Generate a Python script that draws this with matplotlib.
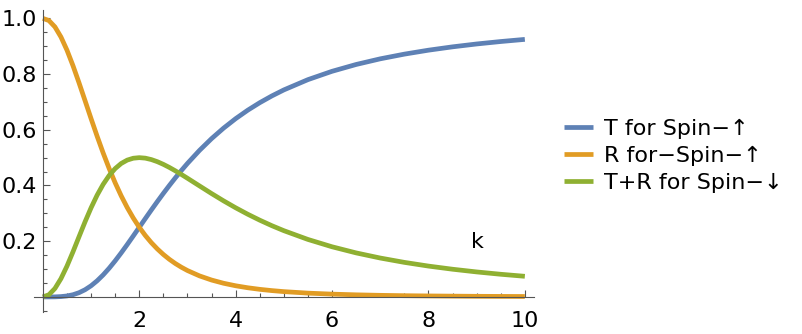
import numpy as np
import matplotlib
matplotlib.use("Agg")
import matplotlib.pyplot as plt
from matplotlib.ticker import MultipleLocator, FixedLocator

# values
k = [0, 0.125, 0.25, 0.375, 0.5, 0.625, 0.75, 0.875, 1, 1.125, 1.25, 1.375,
     1.5, 1.625, 1.75, 1.875, 2, 2.125, 2.25, 2.375, 2.5, 2.625, 2.75, 2.875,
     3, 3.25, 3.5, 3.75, 4, 4.25, 4.5, 4.75, 5, 5.5, 6, 6.5, 7, 7.5, 8, 8.5,
     9, 9.5, 10]
t_up = [0, 0.0000, 0.0002, 0.0012, 0.0035, 0.0079, 0.0152, 0.0258, 0.04,
        0.0578, 0.0789, 0.1030, 0.1296, 0.1581, 0.188, 0.2188, 0.25, 0.2812,
        0.3121, 0.3423, 0.3718, 0.4003, 0.4278, 0.4541, 0.4793, 0.5261, 0.5683,
        0.6061, 0.64, 0.6703, 0.6973, 0.7215, 0.7432, 0.7801, 0.81, 0.8345,
        0.8548, 0.8716, 0.8858, 0.8978, 0.9081, 0.9169, 0.9246]
r_up = [1.0, 0.9922, 0.9695, 0.9332, 0.8858, 0.8300, 0.7686, 0.7045, 0.64,
        0.5771, 0.5171, 0.4611, 0.4096, 0.3628, 0.3208, 0.2833, 0.25, 0.2206,
        0.1948, 0.1722, 0.1523, 0.1349, 0.1197, 0.1064, 0.0947, 0.0755, 0.0606,
        0.0490, 0.04, 0.0329, 0.0272, 0.0227, 0.019, 0.0136, 0.01, 0.0075,
        0.0057, 0.0044, 0.0035, 0.0028, 0.0022, 0.0018, 0.0015]
tr_down = [0, 0.0078, 0.0303, 0.0656, 0.1107, 0.1621, 0.2162, 0.2697, 0.32,
           0.3652, 0.404, 0.4359, 0.4608, 0.4791, 0.4912, 0.4979, 0.5, 0.4982,
           0.4931, 0.4855, 0.4759, 0.4648, 0.4525, 0.4395, 0.426, 0.3985, 0.3711,
           0.3448, 0.32, 0.2969, 0.2755, 0.2558, 0.2378, 0.2063, 0.18, 0.158,
           0.1396, 0.124, 0.1107, 0.0994, 0.0897, 0.0813, 0.074]
labels = ["T for Spin\u2212\u2191", "R for\u2212Spin\u2212\u2191", "T+R for Spin\u2212\u2193"]
colors = ["#5E81B5", "#E19C24", "#8FB032"]

fig = plt.figure(figsize=(8.03, 3.34), dpi=100)
ax = fig.add_axes([0.042, 0.066, 0.623, 0.904])

for y, lab, c in zip([t_up, r_up, tr_down], labels, colors):
    ax.plot(k, y, color=c, lw=3.4, label=lab, solid_capstyle="butt",
            solid_joinstyle="round", clip_on=False)

ax.set_xlim(-0.19, 10.19)
ax.set_ylim(-0.054, 1.03)

for s in ["top", "right"]:
    ax.spines[s].set_visible(False)
ax.spines["left"].set_position(("data", 0))
ax.spines["bottom"].set_position(("data", 0))
for s in ["left", "bottom"]:
    ax.spines[s].set_color("#555555")
    ax.spines[s].set_linewidth(0.8)

ax.xaxis.set_major_locator(FixedLocator([2, 4, 6, 8, 10]))
ax.xaxis.set_minor_locator(MultipleLocator(0.5))
ax.yaxis.set_major_locator(FixedLocator([0.2, 0.4, 0.6, 0.8, 1.0]))
ax.yaxis.set_minor_locator(MultipleLocator(0.05))
ax.set_yticklabels(["0.2", "0.4", "0.6", "0.8", "1.0"])
ax.tick_params(which="both", direction="in", color="#555555", width=0.8,
               labelsize=16, labelcolor="black")
ax.tick_params(which="major", length=5)
ax.tick_params(which="minor", length=3)
ax.tick_params(axis="x", which="major", pad=10)
ax.tick_params(axis="y", which="major", pad=4)

ax.text(9.02, 0.197, "k", fontsize=16, ha="center", va="center")

fig.legend(loc="center left", bbox_to_anchor=(0.702, 0.533), frameon=False,
           fontsize=16, handlelength=1.3, handletextpad=0.5, labelspacing=0.32,
           borderpad=0, borderaxespad=0)

fig.savefig("out.png", dpi=100)
